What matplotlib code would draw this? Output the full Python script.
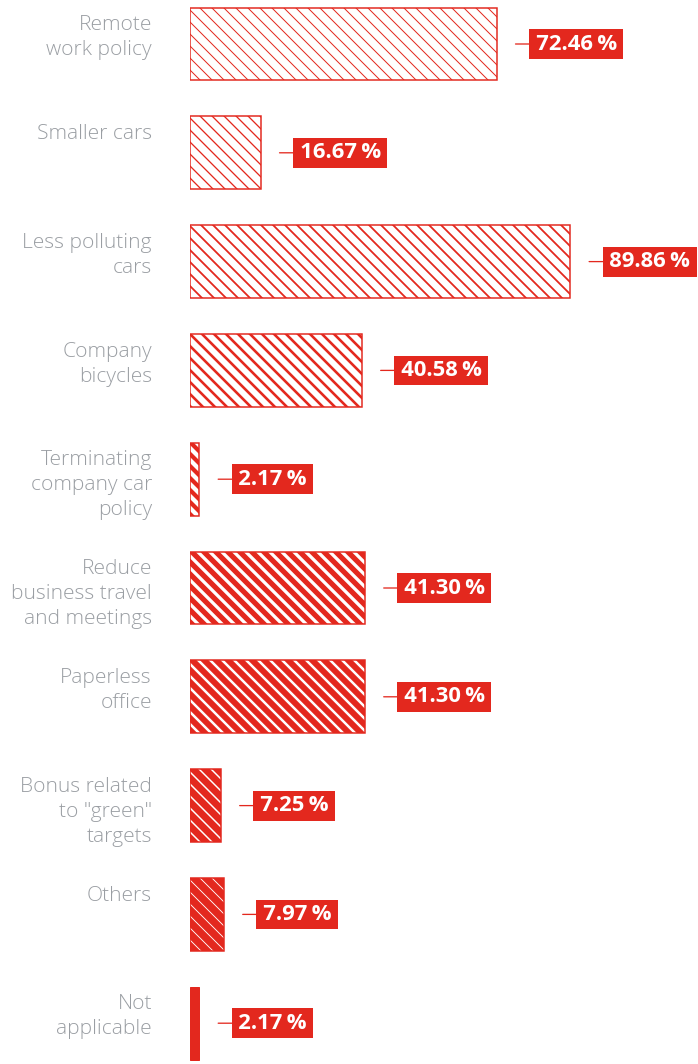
import matplotlib
matplotlib.use("Agg")
import matplotlib.pyplot as plt
from matplotlib.transforms import blended_transform_factory

categories = [
    "Remote\nwork policy",
    "Smaller cars",
    "Less polluting\ncars",
    "Company\nbicycles",
    "Terminating\ncompany car\npolicy",
    "Reduce\nbusiness travel\nand meetings",
    "Paperless\noffice",
    "Bonus related\nto \"green\"\ntargets",
    "Others",
    "Not\napplicable",
]
values = [72.46, 16.67, 89.86, 40.58, 2.17, 41.30, 41.30, 7.25, 7.97, 2.17]

# hatch stroke weight per bar, growing down the list; None = solid fill
hatch_widths = [1.0, 1.3, 1.8, 2.6, 4.2, 5.2, 6.0, 7.0, 7.6, None]

RED = "#e3281e"
GREY = "#9a9ea3"

plt.rcParams["font.family"] = ["Open Sans", "DejaVu Sans"]

W, H, DPI = 698, 1064, 72
fig = plt.figure(figsize=(W / DPI, H / DPI), dpi=DPI)
fig.patch.set_facecolor("white")

left_px = 190
ax = fig.add_axes([left_px / W, 0, 1 - left_px / W, 1])
ax.set_xlim(0, (W - left_px) / 4.23)
pitch = 108.8
first_center = 44
ax.set_ylim((H - first_center) / pitch, -first_center / pitch)
ax.axis("off")

bar_h = 0.67
for i, (v, hw) in enumerate(zip(values, hatch_widths)):
    if hw is None:
        ax.barh(i, v, height=bar_h, color=RED, edgecolor=RED, linewidth=1)
    else:
        bars = ax.barh(i, v, height=bar_h, facecolor="white", edgecolor=RED,
                       linewidth=1.5, hatch="\\\\")
        for b in bars:
            if hasattr(b, "set_hatch_linewidth"):
                b.set_hatch_linewidth(hw)
            else:
                b._hatch_linewidth = hw

    ax.annotate(f"\u200a{v:.2f}\u2009%\u200a", xy=(v, i), xytext=(37, 0),
                textcoords="offset points", ha="left", va="center", color="white",
                fontsize=22, fontweight="bold",
                bbox=dict(boxstyle="square,pad=0.2", facecolor=RED, edgecolor="none"),
                arrowprops=dict(arrowstyle="-", color=RED, lw=1.3,
                                shrinkA=0, shrinkB=19))

# category labels, top-aligned with each bar
lab_tr = blended_transform_factory(fig.transFigure, ax.transData)
for i, cat in enumerate(categories):
    ax.text(152 / W, i - bar_h / 2 + 0.07, cat, transform=lab_tr, ha="right", va="top",
            color=GREY, fontsize=21, fontweight="light", linespacing=1.33)

fig.savefig("out.png", dpi=DPI)
